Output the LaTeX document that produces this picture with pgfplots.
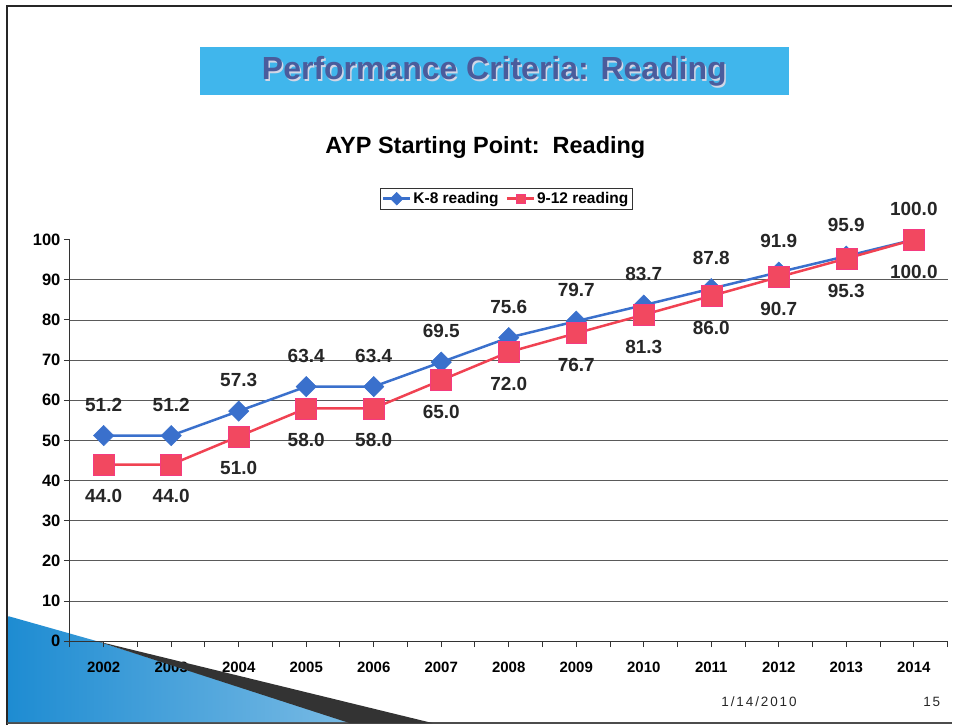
\documentclass[border=0pt]{standalone}
\usepackage{pgfplots}
\pgfplotsset{compat=1.18}
\usepackage{fontspec}
\setmainfont{Liberation Sans}
\definecolor{bannerblue}{RGB}{64,182,236}
\definecolor{bannertext}{RGB}{74,92,156}
\definecolor{kblue}{RGB}{58,112,204}
\definecolor{kred}{RGB}{240,66,82}
\definecolor{kredfill}{RGB}{242,72,96}
\definecolor{decoblue}{RGB}{30,140,210}
\definecolor{gridgray}{RGB}{90,90,90}
\pgfplotstableread{
x y
0 51.2
1 51.2
2 57.3
3 63.4
4 63.4
5 69.5
6 75.6
7 79.7
8 83.7
9 87.8
10 91.9
11 95.9
12 100.0
}\kdata
\pgfplotstableread{
x y
0 44.0
1 44.0
2 51.0
3 58.0
4 58.0
5 65.0
6 72.0
7 76.7
8 81.3
9 86.0
10 90.7
11 95.3
12 100.0
}\hdata
\begin{document}
\begin{tikzpicture}[x=1pt,y=1pt]
\path (0,0) rectangle (953,726);
% slide border
\draw[line width=2.5pt,black!85] (7,0) -- (7,720) -- (953,720);
\draw[line width=2pt,black!70] (7,2) -- (953,2);
% blue decoration
\shade[left color=decoblue,right color=decoblue!60!white] (8.5,109) -- (97,84) -- (350,3) -- (8.5,3) -- cycle;
% banner
\fill[bannerblue] (200,631) rectangle (790,679);
\node[text=white!75!bannertext,font=\bfseries\fontsize{32}{32}\selectfont] at (496.5,653) {Performance Criteria: Reading};
\node[text=bannertext,font=\bfseries\fontsize{32}{32}\selectfont] at (495,654.5) {Performance Criteria: Reading};
% chart title
\node[font=\bfseries\fontsize{23.5}{23.5}\selectfont] at (486,578) {AYP Starting Point:\ \ Reading};
\begin{axis}[
  at={(70pt,84pt)}, anchor=south west,
  scale only axis, width=878.8pt, height=402pt,
  xmin=-0.5, xmax=12.5, ymin=0, ymax=100,
  axis lines*=left,
  axis line style={black!80, line width=1pt},
  xtick={0,...,12},
  xticklabels={2002,2003,2004,2005,2006,2007,2008,2009,2010,2011,2012,2013,2014},
  minor xtick={-0.5,0.5,...,12.5},
  major tick length=6pt, minor tick length=6pt,
  tick align=outside,
  tick style={black!80, line width=1pt},
  x tick label style={font=\bfseries\fontsize{15}{15}\selectfont, yshift=-11pt},
  ytick={0,10,...,100},
  y tick label style={font=\bfseries\fontsize{16.5}{16.5}\selectfont},
  extra y ticks={10,20,...,90},
  extra y tick labels={},
  extra y tick style={grid=major, major tick length=0pt},
  major grid style={gridgray, line width=0.8pt},
  /pgf/number format/assume math mode=true,
  clip=false,
  legend columns=2,
  legend style={at={(0.497,1.102)}, anchor=center, draw=black!80, line width=0.8pt,
    font=\bfseries\fontsize{15.5}{15.5}\selectfont, inner sep=2pt,
    /tikz/every even column/.append style={column sep=5pt}},
  legend image code/.code={\draw[#1,mark size=4pt] (0cm,0cm) -- (0.95cm,0cm); \draw[#1,mark size=4.5pt, mark repeat=1] plot coordinates {(0.475cm,0cm)};},
  nodes near coords={\pgfmathprintnumber[fixed,fixed zerofill,precision=1]{\pgfplotspointmeta}},
  every node near coord/.append style={font=\bfseries\fontsize{19}{19}\selectfont, text=black!85, anchor=center},
]
\addplot[kblue, line width=2.5pt, mark=square*, mark size=7.2pt,
  mark options={rotate=45, fill=kblue, draw=kblue, line width=0.5pt},
  every node near coord/.append style={yshift=31pt}]
  table[x=x,y=y] {\kdata};
\addlegendentry{K-8 reading}
\addplot[kred, line width=2.5pt, mark=square*, mark size=10.5pt,
  mark options={fill=kredfill, draw=kredfill!80!magenta, line width=0.5pt},
  every node near coord/.append style={yshift=-32pt}]
  table[x=x,y=y] {\hdata};
\addlegendentry{9-12 reading}
\end{axis}
% dark band
\fill[black!80] (97,84) -- (433,2) -- (350,2) -- cycle;
% footer
\node[font=\fontsize{13.5}{13.5}\selectfont\addfontfeatures{LetterSpace=14}, text=black!85] at (760,23) {1/14/2010};
\node[font=\fontsize{13.5}{13.5}\selectfont\addfontfeatures{LetterSpace=14}, text=black!85] at (933,23) {15};
\end{tikzpicture}
\end{document}
